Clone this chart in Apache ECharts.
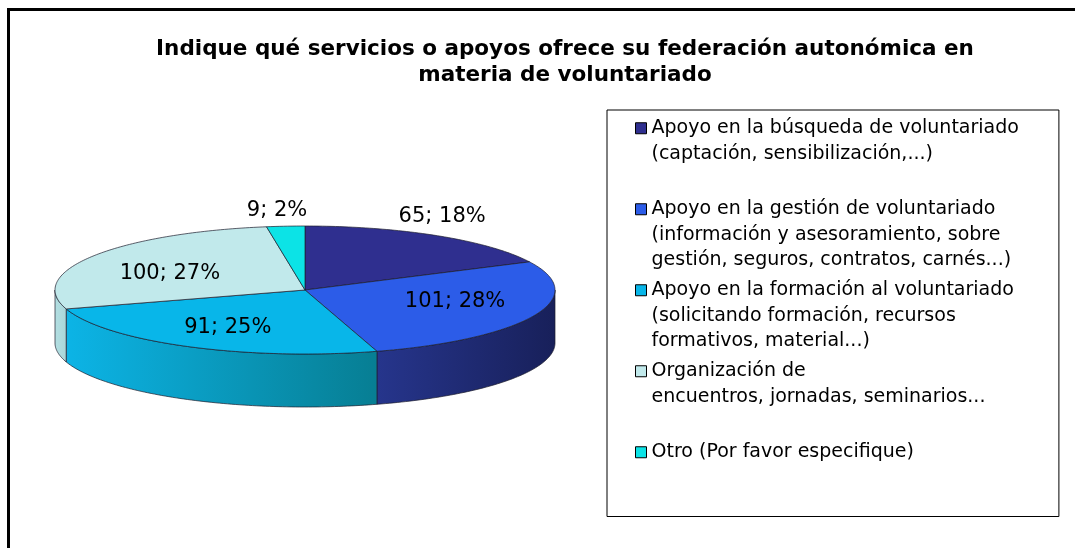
<!DOCTYPE html>
<html>
<head>
<meta charset="utf-8">
<script src="https://cdn.jsdelivr.net/npm/echarts@6/dist/echarts.min.js"></script>
<style>
  html, body { margin: 0; padding: 0; background: #fff; }
  #chart { width: 1075px; height: 548px; }
</style>
</head>
<body>
<div id="chart"></div>
<script>
const categories = [
  "Apoyo en la búsqueda de voluntariado\n(captación, sensibilización,...)",
  "Apoyo en la gestión de voluntariado\n(información y asesoramiento, sobre\ngestión, seguros, contratos, carnés...)",
  "Apoyo en la formación al voluntariado\n(solicitando formación, recursos\nformativos, material...)",
  "Organización de\nencuentros, jornadas, seminarios...",
  "Otro (Por favor especifique)",
];
const values = [65, 101, 91, 100, 9];

const topColors = ["#2f2f8f", "#2c5ce8", "#08b6e9", "#c1e9eb", "#0ce3e6"];
const sideColors = [
  ["#222270", "#1a1a55"],
  ["#26358c", "#18205a"],
  ["#0cb4e6", "#077e93"],
  ["#b3dfe2", "#a9d6d9"],
  ["#0bc8cc", "#08a6aa"],
];
// label anchor, as fraction of the ellipse radii along the slice's mid angle
const labelFactor = [[1.036, 1.36], [0.655, 0.47], [0.657, 0.67], [0.637, 0.5], [1.45, 1.24]];

const pie = { cx: 305, cy: 290, rx: 250, ry: 64, depth: 53 };
const total = values.reduce((a, b) => a + b, 0);
const lineH = 25.5;

function ellipsePoint(deg, dy) {
  const a = (deg * Math.PI) / 180;
  return [pie.cx + pie.rx * Math.sin(a), pie.cy - pie.ry * Math.cos(a) + (dy || 0)];
}

function arcPoints(a0, a1, dy) {
  const pts = [];
  const steps = Math.max(2, Math.ceil(Math.abs(a1 - a0)));
  for (let k = 0; k <= steps; k++) {
    pts.push(ellipsePoint(a0 + ((a1 - a0) * k) / steps, dy));
  }
  return pts;
}

function renderSlice(index) {
  return function (params, api) {
    const value = api.value(0);
    let before = 0;
    for (let k = 0; k < index; k++) before += values[k];
    const a0 = (before / total) * 360;
    const a1 = ((before + value) / total) * 360;
    const children = [];

    // only the front half of the rim is visible (90..270 deg clockwise from top)
    const s0 = Math.max(a0, 90);
    const s1 = Math.min(a1, 270);
    if (s1 > s0) {
      children.push({
        type: "polygon",
        shape: { points: arcPoints(s0, s1, 0).concat(arcPoints(s1, s0, pie.depth)) },
        style: {
          fill: {
            type: "linear", x: 0, y: 0, x2: 1, y2: 0,
            colorStops: [
              { offset: 0, color: sideColors[index][0] },
              { offset: 1, color: sideColors[index][1] },
            ],
          },
          stroke: "#1c1c2c",
          lineWidth: 0.7,
        },
      });
    }

    children.push({
      type: "polygon",
      shape: { points: [[pie.cx, pie.cy]].concat(arcPoints(a0, a1, 0)) },
      style: { fill: topColors[index], stroke: "#1c1c2c", lineWidth: 0.7 },
    });

    const mid = (((a0 + a1) / 2) * Math.PI) / 180;
    const f = labelFactor[index];
    children.push({
      type: "text",
      x: pie.cx + pie.rx * Math.sin(mid) * f[0],
      y: pie.cy - pie.ry * Math.cos(mid) * f[1],
      z2: 10,
      style: {
        text: value + "; " + Math.round((value / total) * 100) + "%",
        align: "center",
        verticalAlign: "middle",
        font: '21px "DejaVu Sans"',
        fill: "#000",
      },
    });

    return { type: "group", children: children };
  };
}

const chart = echarts.init(document.getElementById("chart"), null, { renderer: "canvas" });

// swatch sits on the first text line of a 3-line slot
const iconPath = "path://M0,0h0.01M0,76.5h0.01M0,7.25h11v11h-11z";

chart.setOption({
  animation: false,
  backgroundColor: "#fff",
  title: {
    text: "Indique qué servicios o apoyos ofrece su federación autonómica en\nmateria de voluntariado",
    left: 565,
    top: 36,
    textAlign: "center",
    padding: 0,
    textStyle: {
      fontFamily: "DejaVu Sans",
      fontWeight: "bold",
      fontSize: 21.5,
      lineHeight: 26,
      color: "#000",
    },
  },
  legend: {
    orient: "vertical",
    left: 607,
    top: 110,
    padding: [5, 40, 0, 28],
    itemWidth: 11,
    itemHeight: 76.5,
    itemGap: 3.5,
    icon: iconPath,
    borderColor: "#000",
    borderWidth: 1,
    itemStyle: { borderColor: "#000", borderWidth: 1 },
    textStyle: {
      fontFamily: "DejaVu Sans",
      fontSize: 19,
      lineHeight: lineH,
      color: "#000",
    },
    // pad every entry to three lines so the text starts at the top of its slot
    formatter: (name) => name + "\n ".repeat(3 - name.split("\n").length),
    data: categories,
  },
  graphic: [
    {
      type: "rect",
      shape: { x: 8.5, y: 9.5, width: 1200, height: 700 },
      style: { fill: "none", stroke: "#000", lineWidth: 3 },
    },
  ],
  series: categories.map((name, i) => ({
    type: "custom",
    name: name,
    coordinateSystem: "none",
    itemStyle: { color: topColors[i] },
    data: [[values[i]]],
    renderItem: renderSlice(i),
  })),
});
</script>
</body>
</html>
